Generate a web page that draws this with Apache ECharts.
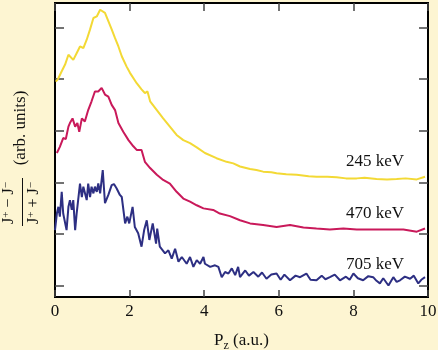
<!DOCTYPE html>
<html><head><meta charset="utf-8">
<script src="https://cdn.jsdelivr.net/npm/echarts@6/dist/echarts.min.js"></script>
<style>html,body{margin:0;padding:0;background:#fdf5d2;}#c{width:438px;height:350px;}</style>
</head><body><div id="c"></div>
<script>
// ---- data (Pz in a.u., signal in arbitrary units; tick marks at integer units) ----
const xTicks = [0, 2, 4, 6, 8, 10];
const yTicks = [0, 1, 2, 3, 4, 5];
const seriesNames = ['245 keV', '470 keV', '705 keV'];

const pz245 = [0.02,0.08,0.18,0.27,0.36,0.40,0.49,0.58,0.67,0.76,0.85,0.94,1.03,1.12,1.21,1.25,1.34,1.43,1.52,1.61,1.70,1.79,1.92,2.01,2.19,2.32,2.41,2.48,2.55,2.73,2.90,3.08,3.26,3.44,3.62,3.80,4.02,4.33,4.60,4.78,4.96,5.23,5.40,5.58,5.80,5.94,6.20,6.48,6.80,7.01,7.30,7.55,7.80,8.09,8.30,8.62,8.90,9.16,9.40,9.70,9.92];
const v245  = [3.95,4.00,4.15,4.28,4.47,4.50,4.37,4.50,4.63,4.60,4.76,4.96,5.18,5.21,5.34,5.36,5.28,5.12,4.96,4.79,4.63,4.44,4.24,4.12,3.92,3.80,3.73,3.76,3.57,3.40,3.24,3.08,2.92,2.82,2.76,2.68,2.57,2.47,2.40,2.37,2.31,2.26,2.24,2.21,2.20,2.18,2.16,2.15,2.12,2.11,2.11,2.10,2.08,2.08,2.09,2.07,2.06,2.07,2.08,2.06,2.11];

const pz470 = [0.05,0.13,0.22,0.29,0.36,0.40,0.47,0.54,0.60,0.65,0.72,0.80,0.89,0.98,1.07,1.16,1.25,1.34,1.43,1.52,1.61,1.70,1.83,1.97,2.10,2.19,2.32,2.41,2.55,2.73,2.90,3.08,3.26,3.44,3.62,3.80,3.98,4.24,4.42,4.69,4.96,5.23,5.58,5.94,6.30,6.66,7.01,7.37,7.73,8.09,8.45,8.80,9.34,9.70,9.92];
const v470  = [2.57,2.69,2.86,2.84,3.08,3.15,3.24,3.08,3.15,2.98,3.24,3.18,3.40,3.57,3.76,3.76,3.83,3.70,3.66,3.50,3.40,3.15,2.98,2.82,2.70,2.63,2.63,2.40,2.28,2.15,2.05,1.98,1.82,1.69,1.63,1.56,1.50,1.47,1.40,1.35,1.27,1.21,1.18,1.14,1.18,1.13,1.11,1.09,1.11,1.09,1.09,1.09,1.09,1.05,1.11];

const pz705 = [0.00,0.05,0.09,0.13,0.18,0.22,0.31,0.36,0.40,0.45,0.49,0.54,0.58,0.67,0.72,0.76,0.85,0.89,0.94,0.98,1.03,1.07,1.12,1.16,1.21,1.28,1.34,1.43,1.52,1.58,1.65,1.74,1.79,1.88,1.94,1.99,2.08,2.14,2.23,2.32,2.39,2.46,2.53,2.62,2.71,2.74,2.81,2.95,3.04,3.13,3.22,3.31,3.40,3.53,3.62,3.71,3.80,3.89,3.98,4.02,4.16,4.29,4.38,4.47,4.56,4.65,4.74,4.83,4.91,4.96,5.10,5.20,5.32,5.45,5.55,5.67,5.80,5.94,6.05,6.15,6.30,6.45,6.57,6.74,6.85,7.01,7.15,7.25,7.37,7.50,7.64,7.80,7.90,8.00,8.12,8.26,8.40,8.53,8.62,8.71,8.80,8.94,9.07,9.16,9.25,9.38,9.52,9.62,9.74,9.82,9.92];
const v705  = [1.08,1.40,1.53,1.34,1.82,1.40,1.08,1.53,1.66,1.47,1.66,1.08,1.40,1.98,1.72,1.92,1.66,1.98,1.72,1.92,1.79,1.92,1.82,1.98,1.79,2.24,1.60,1.76,1.95,1.97,1.89,1.76,1.72,1.21,1.34,1.21,1.53,1.14,1.02,0.76,1.08,1.27,0.89,1.21,0.82,1.11,0.76,0.63,0.69,0.53,0.72,0.47,0.56,0.43,0.56,0.37,0.50,0.43,0.56,0.43,0.37,0.40,0.37,0.17,0.27,0.24,0.34,0.21,0.37,0.17,0.30,0.20,0.27,0.18,0.26,0.14,0.22,0.24,0.12,0.22,0.11,0.20,0.17,0.24,0.12,0.11,0.20,0.13,0.17,0.22,0.11,0.18,0.12,0.24,0.15,0.11,0.19,0.17,0.10,0.05,0.15,0.01,0.17,0.08,0.11,0.18,0.14,0.20,0.05,0.12,0.17];

const colors = ['#f3d935', '#c9195a', '#2d2f83'];
const labelAnchors = [[9.36, 2.40], [9.36, 1.41], [9.36, 0.42]];

function pairs(xs, ys) { return xs.map((x, i) => [x, ys[i]]); }

const serif = '"Liberation Serif", "DejaVu Serif", serif';
const chart = echarts.init(document.getElementById('c'));
const tickStyle = { color: '#444', width: 1.5 };
const axisLineStyle = { show: true, onZero: false, lineStyle: { color: '#000', width: 2 } };
const option = {
  backgroundColor: '#fdf5d2',
  animation: false,
  grid: { left: 55, right: 10, top: 3, bottom: 53, outerBoundsMode: 'none', containLabel: false,
    show: true, backgroundColor: '#ffffff', borderColor: '#000', borderWidth: 2 },
  xAxis: [{
    type: 'value', min: 0, max: 10, interval: 2, position: 'bottom',
    axisLine: axisLineStyle,
    axisTick: { show: true, inside: true, length: 7, lineStyle: tickStyle },
    axisLabel: { color: '#111', fontFamily: serif, fontSize: 17, margin: 6 },
    splitLine: { show: false },
    name: 'P{sub|z} (a.u.)', nameLocation: 'middle', nameGap: 33,
    nameTextStyle: { color: '#111', fontFamily: serif, fontSize: 17,
      rich: { sub: { fontFamily: serif, fontSize: 12, padding: [10, 0, 0, 0] } } }
  }, {
    type: 'value', min: 0, max: 10, interval: 2, position: 'top',
    axisLine: axisLineStyle,
    axisTick: { show: true, inside: true, length: 8, lineStyle: tickStyle },
    axisLabel: { show: false }, splitLine: { show: false }
  }],
  yAxis: [{
    type: 'value', min: -0.213, max: 5.47, position: 'left',
    axisLine: axisLineStyle,
    axisTick: { show: true, inside: true, length: 9, customValues: yTicks, lineStyle: tickStyle },
    axisLabel: { show: false }, splitLine: { show: false }
  }, {
    type: 'value', min: -0.213, max: 5.47, position: 'right',
    axisLine: axisLineStyle,
    axisTick: { show: true, inside: true, length: 9, customValues: yTicks, lineStyle: tickStyle },
    axisLabel: { show: false }, splitLine: { show: false }
  }],
  series: [
    { name: seriesNames[0], type: 'line', data: pairs(pz245, v245), showSymbol: false, lineStyle: { color: colors[0], width: 2 } },
    { name: seriesNames[1], type: 'line', data: pairs(pz470, v470), showSymbol: false, lineStyle: { color: colors[1], width: 2 } },
    { name: seriesNames[2], type: 'line', data: pairs(pz705, v705), showSymbol: false, lineStyle: { color: colors[2], width: 2 } }
  ]
};
chart.setOption(option);

const graphics = labelAnchors.map((a, i) => {
  const p = chart.convertToPixel({ gridIndex: 0 }, a);
  return { type: 'text', x: p[0], y: p[1], z: 100,
    style: { text: seriesNames[i], font: '17px ' + serif, fill: '#111', align: 'right', verticalAlign: 'middle' } };
});
graphics.push(
  { type: 'text', x: 21, y: 128, rotation: Math.PI / 2, z: 100,
    style: { text: '(arb. units)', font: '17px ' + serif, fill: '#111', align: 'center', verticalAlign: 'middle' } },
  { type: 'text', x: 9, y: 203, rotation: Math.PI / 2, z: 100,
    style: { text: 'J{s|+} − J{s|−}', font: '16px ' + serif, fill: '#111', align: 'center', verticalAlign: 'middle',
      rich: { s: { font: '11px ' + serif, verticalAlign: 'top', padding: [0, 0, 5, 0] } } } },
  { type: 'line', z: 100, shape: { x1: 22.5, y1: 178, x2: 22.5, y2: 226 }, style: { stroke: '#111', lineWidth: 1 } },
  { type: 'text', x: 34, y: 203, rotation: Math.PI / 2, z: 100,
    style: { text: 'J{s|+} + J{s|−}', font: '16px ' + serif, fill: '#111', align: 'center', verticalAlign: 'middle',
      rich: { s: { font: '11px ' + serif, verticalAlign: 'top', padding: [0, 0, 5, 0] } } } }
);
chart.setOption({ graphic: graphics });
</script></body></html>
